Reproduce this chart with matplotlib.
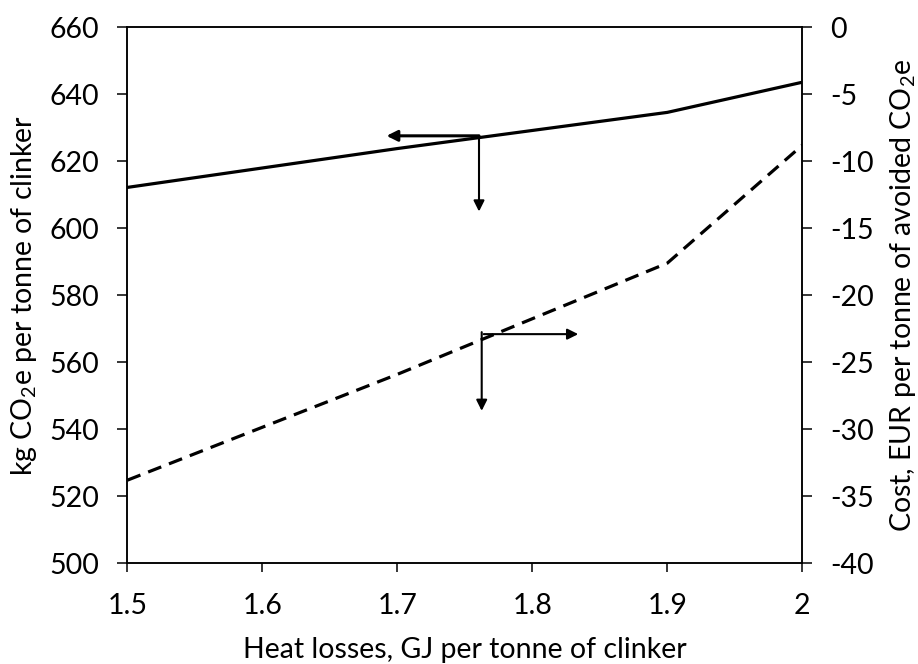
import matplotlib
matplotlib.use("Agg")
import matplotlib.pyplot as plt

plt.rcParams['font.family'] = ['Lato', 'DejaVu Sans']
plt.rcParams['mathtext.fontset'] = 'custom'
plt.rcParams['mathtext.rm'] = 'Lato'
plt.rcParams['mathtext.it'] = 'Lato:italic'
plt.rcParams['axes.unicode_minus'] = False

# values
heat_losses = [1.5, 1.7, 1.9, 2.0]
emissions = [612.2, 623.8, 634.6, 643.6]      # kg CO2e per tonne clinker (left axis)
cost = [-33.8, -25.9, -17.6, -8.8]            # EUR per tonne avoided CO2e (right axis)

x_ticks = [1.5, 1.6, 1.7, 1.8, 1.9, 2.0]
x_ticklabels = ["1.5", "1.6", "1.7", "1.8", "1.9", "2"]
left_ticks = list(range(500, 661, 20))
right_ticks = list(range(-40, 1, 5))

fig = plt.figure(figsize=(9.18, 6.64), dpi=100)
ax = fig.add_axes([0.1387, 0.1517, 0.7353, 0.8072])
ax2 = ax.twinx()

ax.plot(heat_losses, emissions, color='black', lw=2.3, solid_joinstyle='round')
ax2.plot(heat_losses, cost, color='black', lw=2.3, linestyle=(0, (4.4, 2.6)))

ax.set_xlim(1.5, 2.0)
ax.set_ylim(500, 660)
ax2.set_ylim(-40, 0)
ax.set_xticks(x_ticks)
ax.set_xticklabels(x_ticklabels)
ax.set_yticks(left_ticks)
ax2.set_yticks(right_ticks)

fs = 20.5
ax.tick_params(axis='x', direction='out', length=6.5, width=1.1, labelsize=fs, pad=15)
ax.tick_params(axis='y', direction='out', length=7.5, width=1.1, labelsize=fs, pad=13)
ax2.tick_params(axis='y', direction='out', length=7, width=1.1, labelsize=fs, pad=13)
for a in (ax, ax2):
    for s in a.spines.values():
        s.set_linewidth(1.1)

ax.set_xlabel("Heat losses, GJ per tonne of clinker", fontsize=fs, labelpad=13)
ax.set_ylabel(r"kg CO$_2$e per tonne of clinker", fontsize=fs, labelpad=7)
ax2.set_ylabel(r"Cost, EUR per tonne of avoided CO$_2$e", fontsize=fs, labelpad=10)

# arrows pointing to the axis each line belongs to
head = dict(arrowstyle='-|>', color='black', mutation_scale=16, shrinkA=0, shrinkB=0)
ax.annotate("", xy=(1.692, 627.6), xytext=(1.7605, 627.6), arrowprops=dict(head, lw=2.2))
ax.annotate("", xy=(1.7605, 605.0), xytext=(1.7605, 627.6), arrowprops=dict(head, lw=1.5))
ax.annotate("", xy=(1.834, 568.4), xytext=(1.764, 568.4), arrowprops=dict(head, lw=1.5))
ax.annotate("", xy=(1.7625, 545.5), xytext=(1.7625, 569.0), arrowprops=dict(head, lw=1.5))

fig.savefig("out.png", dpi=100)
